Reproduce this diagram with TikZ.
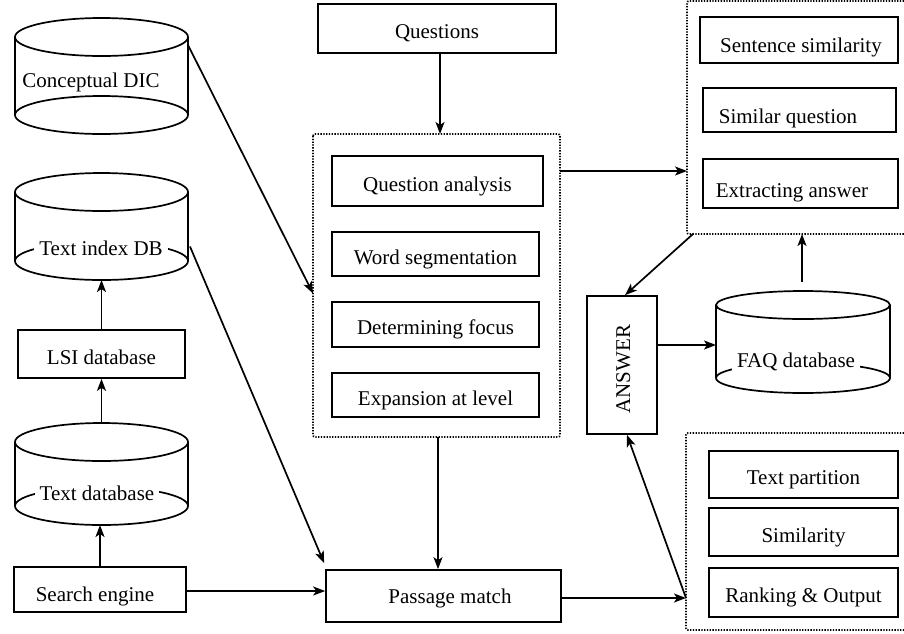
\documentclass[tikz,border=0pt]{standalone}
\usepackage{fontspec}
\setmainfont{Liberation Serif}
\usetikzlibrary{arrows.meta,calc}
\begin{document}
\begin{tikzpicture}[x=1pt,y=-1pt,
  every node/.style={font=\fontsize{21}{25}\selectfont, text height=20pt, text depth=0pt},
  lw/.style={line width=1.7pt},
  box/.style={draw, lw, inner sep=0pt},
  hold/.style={inner sep=0pt, outer sep=0pt},
  dotbox/.style={line width=1.8pt, dash pattern=on 1.3pt off 1.5pt, rounded corners=2pt},
  arr/.style={lw, -{Stealth[length=12pt,width=9pt,inset=3pt]}},
  lbl/.style={fill=white, inner xsep=5pt, inner ysep=1pt, text height=15pt, text depth=5pt}]
\useasboundingbox (0,0) rectangle (904,633);

% ---------- left column: cylinders and boxes ----------
\node[hold, minimum width=173pt, minimum height=116pt] (cdic) at (101.5,76) {};
\draw[lw] (101.5,37) ellipse [x radius=86.5, y radius=19]
          (101.5,115) ellipse [x radius=86.5, y radius=19]
          (15,37) -- (15,115) (188,37) -- (188,115);
\node at (91,77) {Conceptual DIC};

\node[hold, minimum width=173pt, minimum height=107pt] (tidb) at (101.5,226.5) {};
\draw[lw] (101.5,192) ellipse [x radius=86.5, y radius=19]
          (101.5,261) ellipse [x radius=86.5, y radius=19]
          (15,192) -- (15,261) (188,192) -- (188,261);
\node[lbl] at (101,250) {Text index DB};

\node[box, minimum width=167pt, minimum height=48pt] (lsi) at (101.5,354) {LSI database};

\node[hold, minimum width=173pt, minimum height=102pt] (tdb) at (101.5,474) {};
\draw[lw] (101.5,442) ellipse [x radius=86.5, y radius=19]
          (101.5,506) ellipse [x radius=86.5, y radius=19]
          (15,442) -- (15,506) (188,442) -- (188,506);
\node[lbl] at (97,495) {Text database};

\node[box, minimum width=172pt, minimum height=45pt] (se) at (100,589.5) {};
\node at (95,591) {Search engine};

% ---------- middle column ----------
\node[box, minimum width=238pt, minimum height=49pt] (q) at (437,28.5) {Questions};

\node[hold, minimum width=247pt, minimum height=303pt] (qbox) at (436.5,285.5) {};
\draw[dotbox] (qbox.north west) rectangle (qbox.south east);
\node[box, minimum width=211pt, minimum height=50pt] (qa) at (437.5,181) {Question analysis};
\node[box, minimum width=207pt, minimum height=44pt] (ws) at (435.5,254) {Word segmentation};
\node[box, minimum width=207pt, minimum height=45pt] (df) at (435.5,324.5) {Determining focus};
\node[box, minimum width=207pt, minimum height=44pt] (ex) at (435.5,395) {Expansion at level};

\node[box, minimum width=235pt, minimum height=52pt] (pm) at (443.5,596) {};
\node at (450,593) {Passage match};

% ---------- right column ----------
\node[hold, minimum width=217pt, minimum height=233pt] (tb) at (795.5,117.5) {};
\draw[dotbox] (tb.north east) -- (tb.north west) -- (tb.south west) -- (tb.south east);
\node[box, minimum width=198pt, minimum height=46pt] (ss) at (799,40) {};
\node at (801,42) {Sentence similarity};
\node[box, minimum width=193pt, minimum height=44pt] (sq) at (799.5,110) {};
\node at (788,113) {Similar question};
\node[box, minimum width=195pt, minimum height=49pt] (ea) at (800.5,183.5) {};
\node at (792,187) {Extracting answer};

\node[box, minimum width=70pt, minimum height=138pt] (ans) at (622,365) {};
\node[rotate=90] at (620,369) {ANSWER};

\node[hold, minimum width=174pt, minimum height=102pt] (faq) at (803,342) {};
\draw[lw] (803,305) ellipse [x radius=87, y radius=14]
          (803,378) ellipse [x radius=87, y radius=15]
          (716,305) -- (716,378) (890,305) -- (890,378);
\node[lbl] at (796,362) {FAQ database};

\node[hold, minimum width=218pt, minimum height=197pt] (rb) at (795,531.5) {};
\draw[dotbox] (rb.north east) -- (rb.north west) -- (rb.south west) -- (rb.south east);
\node[box, minimum width=189pt, minimum height=47pt] (tp) at (803.5,474.5) {Text partition};
\node[box, minimum width=189pt, minimum height=48pt] (sim) at (803.5,532) {Similarity};
\node[box, minimum width=189pt, minimum height=49pt] (ro) at (803.5,592.5) {Ranking \& Output};

% ---------- connectors ----------
\draw[arr] (se.north) -- (se.north |- tdb.south);
\draw[arr] (tdb.north) -- (lsi.south);
\draw[arr] (lsi.north) -- (tidb.south);
\draw[arr] ($(se.east)+(0,1.5)$) coordinate (s0) -- (s0 -| pm.west);
\draw[arr] ($(tidb.east)+(2,20)$) -- ($(pm.north west)+(-1,-6)$);
\draw[arr] ($(cdic.north east)+(0,27)$) -- ($(qbox.west)+(0,8)$);
\draw[arr] ($(q.south)+(3,0)$) coordinate (s3) -- (s3 |- qbox.north);
\draw[arr] ($(qbox.south)+(1.5,0)$) coordinate (s4) -- (s4 |- pm.north);
\draw[arr] ($(qbox.north east)+(0,37)$) coordinate (s1) -- (s1 -| tb.west);
\draw[arr] ($(tb.south west)+(6,0)$) -- ($(ans.north)+(3,0)$);
\draw[arr] ($(ans.east)+(0,-20)$) coordinate (s2) -- (s2 -| faq.west);
\draw[arr] ($(faq.north)+(-1,-9)$) coordinate (s5) -- (s5 |- tb.south);
\draw[arr] ($(pm.east)+(0,2)$) coordinate (s6) -- (s6 -| rb.west);
\draw[arr] (s6 -| rb.west) -- ($(ans.south)+(5,0)$);
\end{tikzpicture}
\end{document}
